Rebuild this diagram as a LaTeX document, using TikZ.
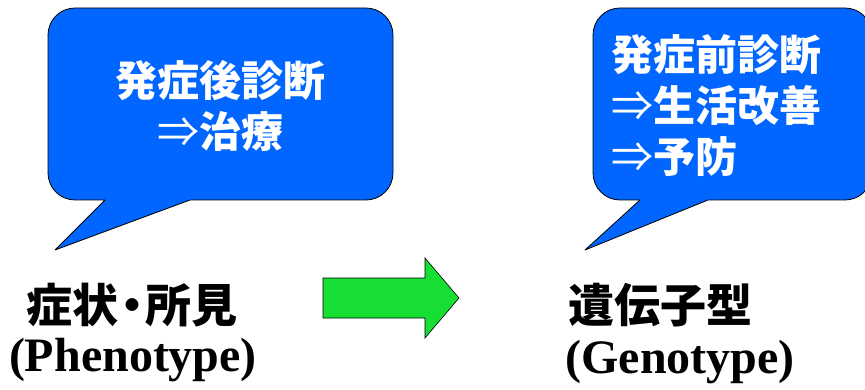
\documentclass[tikz,border=0pt]{standalone}
\usepackage{fontspec}
\setmainfont{Liberation Serif}
\newfontfamily\jp{Noto Sans CJK JP}
\definecolor{bubbleblue}{RGB}{0,102,255}
\definecolor{arrowgreen}{RGB}{22,222,50}
\newcommand{\thinarrow}{{\mdseries ⇒}}
\tikzset{
  bubble/.style={fill=bubbleblue, draw=black, line width=0.8pt, line join=round},
  bubbletext/.style={text=white, font=\jp\bfseries\fontsize{42}{51}\selectfont, inner sep=0pt},
  jplabel/.style={text=black, font=\jp\bfseries\fontsize{46}{50}\selectfont, inner sep=0pt},
  enlabel/.style={text=black, font=\bfseries\fontsize{48}{50}\selectfont, inner sep=0pt},
  bigarrow/.style={fill=arrowgreen, draw=black, line width=0.6pt, line join=miter}
}
\begin{document}
\begin{tikzpicture}[x=1pt,y=-1pt]
\useasboundingbox (0,0) rectangle (865,390);
\clip (0,0) rectangle (865,390);
% left bubble
\draw[bubble] (105,200) -- (55,250) -- (190,200) -- (366,200)
  arc[start angle=90, end angle=0, radius=27] -- (393,35)
  arc[start angle=0, end angle=-90, radius=27] -- (75,8)
  arc[start angle=270, end angle=180, radius=27] -- (48,173)
  arc[start angle=180, end angle=90, radius=27] -- cycle;
% right bubble
\draw[bubble] (640,200) -- (585,250) -- (708,200) -- (845,200)
  arc[start angle=90, end angle=0, radius=27] -- (872,35)
  arc[start angle=0, end angle=-90, radius=27] -- (620,8)
  arc[start angle=270, end angle=180, radius=27] -- (593,173)
  arc[start angle=180, end angle=90, radius=27] -- cycle;
\node[bubbletext, align=center] (post) at (220,106) {発症後診断\\\thinarrow 治療};
\node[bubbletext, align=left, anchor=west] (pre) at (611,106) {発症前診断\\\thinarrow 生活改善\\\thinarrow 予防};
% labels
\node[jplabel] (pheno) at (132,305) {症状\kern-0.2em・\kern-0.2em所見};
\node[enlabel] (phenoen) at (133,360) {(Phenotype)};
\node[jplabel] (geno) at (660,305) {遺伝子型};
\node[enlabel] (genoen) at (680,362) {(Genotype)};
% arrow
\draw[bigarrow] (323,278) -- (425,278) -- (425,258) -- (459,298) -- (425,338) -- (425,318) -- (323,318) -- cycle;
\end{tikzpicture}
\end{document}
